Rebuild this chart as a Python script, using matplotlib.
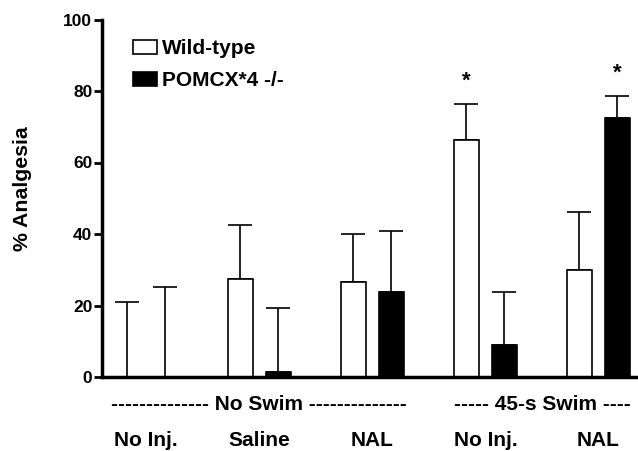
import matplotlib
matplotlib.use('Agg')
import matplotlib.pyplot as plt
import numpy as np

plt.rcParams['font.family'] = ['Liberation Sans', 'DejaVu Sans']
plt.rcParams['font.weight'] = 'bold'

# Data
categories = ['No Inj.', 'Saline', 'NAL', 'No Inj.', 'NAL']
wt_mean = [0.0, 27.5, 26.6, 66.3, 30.0]
wt_err = [21.1, 15.1, 13.5, 10.2, 16.2]
ko_mean = [0.0, 1.3, 23.8, 9.0, 72.5]
ko_err = [25.3, 18.0, 17.1, 14.8, 6.2]
significant_wt = [False, False, False, True, False]
significant_ko = [False, False, False, False, True]
group_labels = ['-------------- No Swim --------------', '----- 45-s Swim ----']
group_centers = [1.0, 3.5]

x = np.arange(len(categories))
w = 0.22
off = 0.168

fig = plt.figure(figsize=(6.38, 4.51), dpi=100)
ax = fig.add_axes([102/638, 74/451, 1 - 102/638, (377 - 19.5)/451])

# error bars first so the white bars cover their lower half
ax.errorbar(x - off, wt_mean, yerr=[np.zeros(5), wt_err], fmt='none',
            ecolor='black', elinewidth=1.2, capsize=8.5, capthick=1.2, zorder=1)
ax.errorbar(x + off, ko_mean, yerr=[np.zeros(5), ko_err], fmt='none',
            ecolor='black', elinewidth=1.2, capsize=8.5, capthick=1.2, zorder=1)
b1 = ax.bar(x - off, wt_mean, w, color='white', edgecolor='black', linewidth=1.2,
            label='Wild-type', zorder=2)
b2 = ax.bar(x + off, ko_mean, w, color='black', edgecolor='black', linewidth=1.2,
            label='POMCX*4 -/-', zorder=2)

# significance stars
for i in range(len(categories)):
    if significant_wt[i]:
        ax.text(x[i] - off, wt_mean[i] + wt_err[i] + 4.7, '*', ha='center',
                va='baseline', fontsize=16, fontweight='bold')
    if significant_ko[i]:
        ax.text(x[i] + off, ko_mean[i] + ko_err[i] + 4.7, '*', ha='center',
                va='baseline', fontsize=16, fontweight='bold')

ax.set_xlim(-0.39, 4.35)
ax.set_ylim(0, 100)
ax.set_yticks([0, 20, 40, 60, 80, 100])
ax.set_xticks([])
ax.tick_params(axis='y', length=6, width=2, labelsize=12.5, pad=1)
for lab in ax.get_yticklabels():
    lab.set_fontweight('bold')
for s in ['top', 'right']:
    ax.spines[s].set_visible(False)
ax.spines['left'].set_linewidth(2.5)
ax.spines['bottom'].set_linewidth(2.5)

ax.set_ylabel('% Analgesia', fontsize=15.3, fontweight='bold')
ax.yaxis.set_label_coords(-0.13, 0.528)

# category and group labels under the axis
trans = ax.get_xaxis_transform()
for xi, lab in zip(x, categories):
    ax.text(xi, -0.177, lab, transform=trans, ha='center', va='center',
            fontsize=15, fontweight='bold')
for xc, lab in zip(group_centers, group_labels):
    ax.text(xc, -0.076, lab, transform=trans, ha='center', va='center',
            fontsize=15, fontweight='bold')

ax.legend(handles=[b1, b2], loc='upper left', frameon=False,
          bbox_to_anchor=(133/638, 1 - 39/451), bbox_transform=fig.transFigure,
          borderpad=0, borderaxespad=0, handlelength=1.15, handleheight=0.67,
          handletextpad=0.25, labelspacing=0.62,
          prop={'size': 15, 'weight': 'bold'})

fig.savefig('out.png', dpi=100)
